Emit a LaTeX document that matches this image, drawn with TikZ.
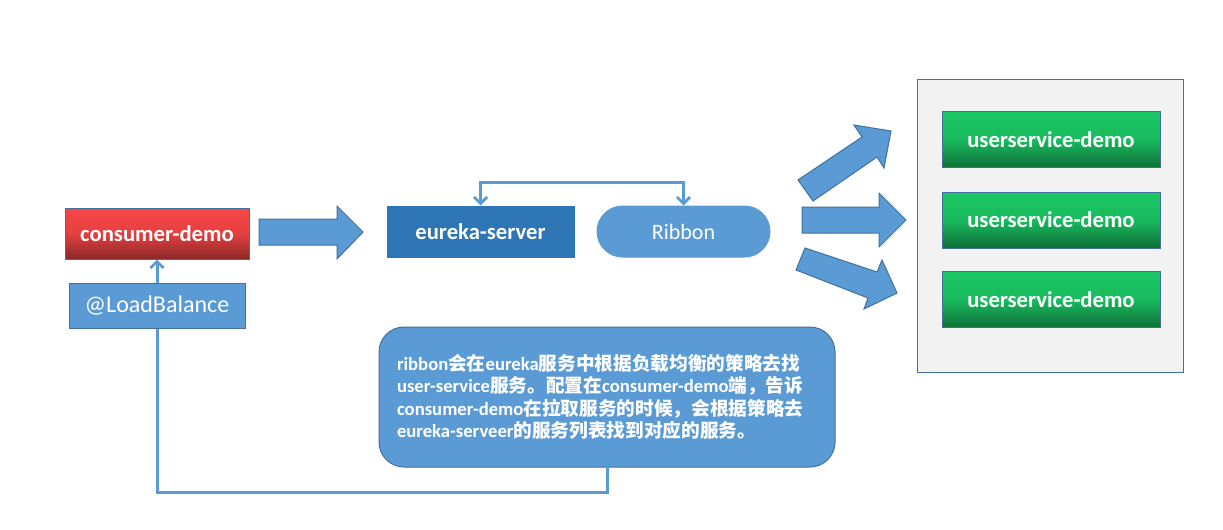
\documentclass[tikz,border=0pt]{standalone}
\usepackage{fontspec}
\setmainfont{Carlito}
\newfontfamily\cjk{Noto Sans CJK SC}
\newcommand\zh[1]{{\cjk #1}}
\usetikzlibrary{arrows.meta,backgrounds}
\definecolor{mblue}{HTML}{5B9BD5}
\definecolor{bord}{HTML}{41719C}
\definecolor{dblue}{HTML}{2E75B6}
\definecolor{redtop}{HTML}{FA4646}
\definecolor{redbot}{HTML}{8A2828}
\definecolor{grtop}{HTML}{1BC864}
\definecolor{grbot}{HTML}{0E6E37}
\definecolor{panel}{HTML}{F2F2F2}
\tikzset{
  boxbase/.style={rectangle, draw=bord, line width=0.75pt, inner sep=0pt, text=white},
  redbox/.style={boxbase, top color=redtop, bottom color=redbot, middle color=redtop!80!redbot, font=\fontsize{17}{20}\selectfont\bfseries},
  greenbox/.style={boxbase, top color=grtop, bottom color=grbot, middle color=grtop!85!grbot, font=\fontsize{17}{20}\selectfont\bfseries, minimum width=218*0.75pt, minimum height=56*0.75pt},
  bluebox/.style={boxbase, fill=mblue, font=\fontsize{18}{21}\selectfont},
  eurbox/.style={boxbase, draw=dblue, fill=dblue, font=\fontsize{17}{20}\selectfont\bfseries},
  pill/.style={boxbase, draw=mblue, fill=mblue, rounded corners=25.5*0.75pt, font=\fontsize{16.5}{19}\selectfont},
  panelbox/.style={rectangle, draw=bord, line width=0.75pt, fill=panel},
  calloutbox/.style={boxbase, fill=mblue, rounded corners=25*0.75pt, align=left, text width=420*0.75pt, inner xsep=18*0.75pt, font=\fontsize{14}{16.9}\selectfont\bfseries},
  bigarrow/.style={fill=mblue, draw=bord, line width=0.75pt, line join=miter},
  conn/.style={draw=mblue, line width=2.25pt, {Straight Barb[length=5pt,width=10pt,line width=2pt]}-{Straight Barb[length=5pt,width=10pt,line width=2pt]}},
  conn1/.style={draw=mblue, line width=2.25pt, -{Straight Barb[length=5pt,width=10pt,line width=2pt]}}
}
\begin{document}
\begin{tikzpicture}[x=0.75pt,y=-0.75pt]
\useasboundingbox (0,0) rectangle (1223,529);

% nodes
\node[redbox, minimum width=184*0.75pt, minimum height=51*0.75pt] (cons) at (157,233.5) {consumer-demo};
\node[bluebox, minimum width=176*0.75pt, minimum height=45*0.75pt] (lb) at (157,305.5) {@LoadBalance};
\node[eurbox, minimum width=187*0.75pt, minimum height=51*0.75pt] (eur) at (480.5,231.5) {eureka-server};
\node[pill, minimum width=173*0.75pt, minimum height=51*0.75pt] (rib) at (683.5,231.5) {Ribbon};
\node[panelbox, minimum width=266*0.75pt, minimum height=293*0.75pt] (pan) at (1050,225.5) {};
\node[greenbox] (u1) at (1051,139.5) {userservice-demo};
\node[greenbox] (u2) at (1051,220) {userservice-demo};
\node[greenbox] (u3) at (1051,299.5) {userservice-demo};
\node[calloutbox, minimum width=456*0.75pt, minimum height=140*0.75pt] (cal) at (607,397) {%
ribbon\zh{会在}eureka\zh{服务中根据负载均衡的策略去找}\\
user-service\zh{服务。配置在}consumer-demo\zh{端，告诉}\\
consumer-demo\zh{在拉取服务的时候，会根据策略去}\\
eureka-serveer\zh{的服务列表找到对应的服务。}};

% block arrows
\draw[bigarrow] (259,219) -- (337,219) -- (337,206) -- (363,232) -- (337,259) -- (337,245) -- (259,245) -- cycle;
\draw[bigarrow] (802,207) -- (879,207) -- (879,193) -- (906,220) -- (879,247) -- (879,233) -- (802,233) -- cycle;
\draw[bigarrow] (798,180) -- (862,137) -- (854,125) -- (891,131) -- (884,168) -- (877,157) -- (813,201) -- cycle;
\draw[bigarrow] (805,248) -- (877,272) -- (882,260) -- (897,293) -- (864,309) -- (868,298) -- (796,270) -- cycle;

% connectors
\draw[conn] (eur.north) -- ++(0,-23) -| (rib.north);
\begin{scope}[on background layer]
\fill[white] (0,0) rectangle (1223,529);
\draw[conn1] (cal.south) -- ++(0,25) -| (cons.south);
\end{scope}
\end{tikzpicture}
\end{document}
